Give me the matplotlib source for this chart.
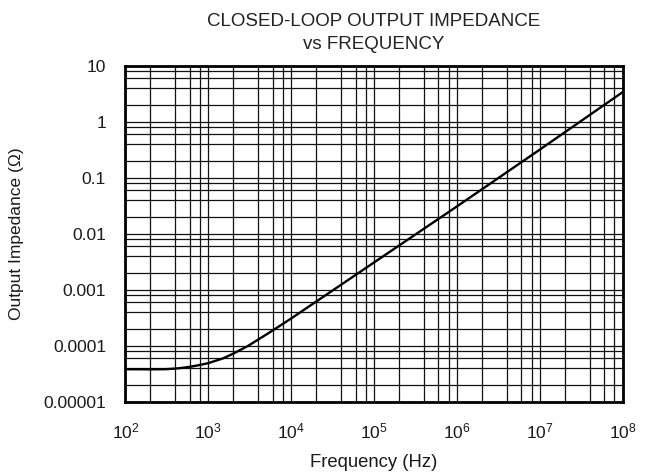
import numpy as np
import matplotlib.pyplot as plt
from matplotlib.ticker import FixedLocator, NullFormatter

plt.rcParams['font.family'] = ['Liberation Sans', 'DejaVu Sans']
plt.rcParams['mathtext.default'] = 'regular'

# Closed-loop output impedance
freq_hz = [1e2, 2e2, 3e2, 4e2, 5e2, 6e2, 8e2, 1e3, 1.5e3, 2e3, 3e3, 5e3, 7e3,
           1e4, 1e5, 1e6, 1e7, 1e8]
impedance_ohm = [3.85e-5, 3.83e-5, 3.85e-5, 3.95e-5, 4.1e-5, 4.25e-5, 4.6e-5,
                 4.95e-5, 6.0e-5, 7.3e-5, 1.0e-4, 1.6e-4, 2.2e-4,
                 3.1e-4, 3.1e-3, 0.031, 0.32, 3.4]

x_ticks = [1e2, 1e3, 1e4, 1e5, 1e6, 1e7, 1e8]
x_ticklabels = [r'10$^{2}$', r'10$^{3}$', r'10$^{4}$', r'10$^{5}$',
                r'10$^{6}$', r'10$^{7}$', r'10$^{8}$']
y_ticks = [1e-5, 1e-4, 1e-3, 1e-2, 1e-1, 1, 10]
y_ticklabels = ['0.00001', '0.0001', '0.001', '0.01', '0.1', '1', '10']

fig = plt.figure(figsize=(6.53, 4.74), dpi=100)
ax = fig.add_subplot(111)
fig.subplots_adjust(left=125.5/653, right=622.5/653, top=1-66/474, bottom=1-402/474)

ax.plot(freq_hz, impedance_ohm, color='black', lw=1.7, zorder=3)

ax.set_xscale('log')
ax.set_yscale('log')
ax.set_xlim(1e2, 1e8)
ax.set_ylim(1e-5, 10)

# grid at 1, 2, 4, 6, 8 of every decade on both axes
minor_x = [m * 10.0**d for d in range(2, 8) for m in (2, 4, 6, 8)]
minor_y = [m * 10.0**d for d in range(-5, 1) for m in (2, 4, 6, 8)]
ax.xaxis.set_major_locator(FixedLocator(x_ticks))
ax.yaxis.set_major_locator(FixedLocator(y_ticks))
ax.xaxis.set_minor_locator(FixedLocator(minor_x))
ax.yaxis.set_minor_locator(FixedLocator(minor_y))
ax.xaxis.set_minor_formatter(NullFormatter())
ax.yaxis.set_minor_formatter(NullFormatter())
ax.set_xticklabels(x_ticklabels)
ax.set_yticklabels(y_ticklabels)

ax.grid(True, which='both', color='#111111', lw=0.9)
ax.tick_params(which='both', length=0)
ax.tick_params(axis='x', pad=14, labelsize=12.5, labelcolor='#1a1a1a')
ax.tick_params(axis='y', pad=14, labelsize=12.5, labelcolor='#1a1a1a')

for spine in ax.spines.values():
    spine.set_linewidth(2.0)
    spine.set_color('black')

ax.set_title('CLOSED-LOOP OUTPUT IMPEDANCE\nvs FREQUENCY', fontsize=13.5,
             color='#222222', pad=12, linespacing=1.45)
ax.set_xlabel('Frequency (Hz)', fontsize=13.3, color='#1a1a1a', labelpad=9)
ax.set_ylabel('Output Impedance (Ω)', fontsize=12.5, color='#1a1a1a', labelpad=14)

fig.savefig('out.png', dpi=100)
